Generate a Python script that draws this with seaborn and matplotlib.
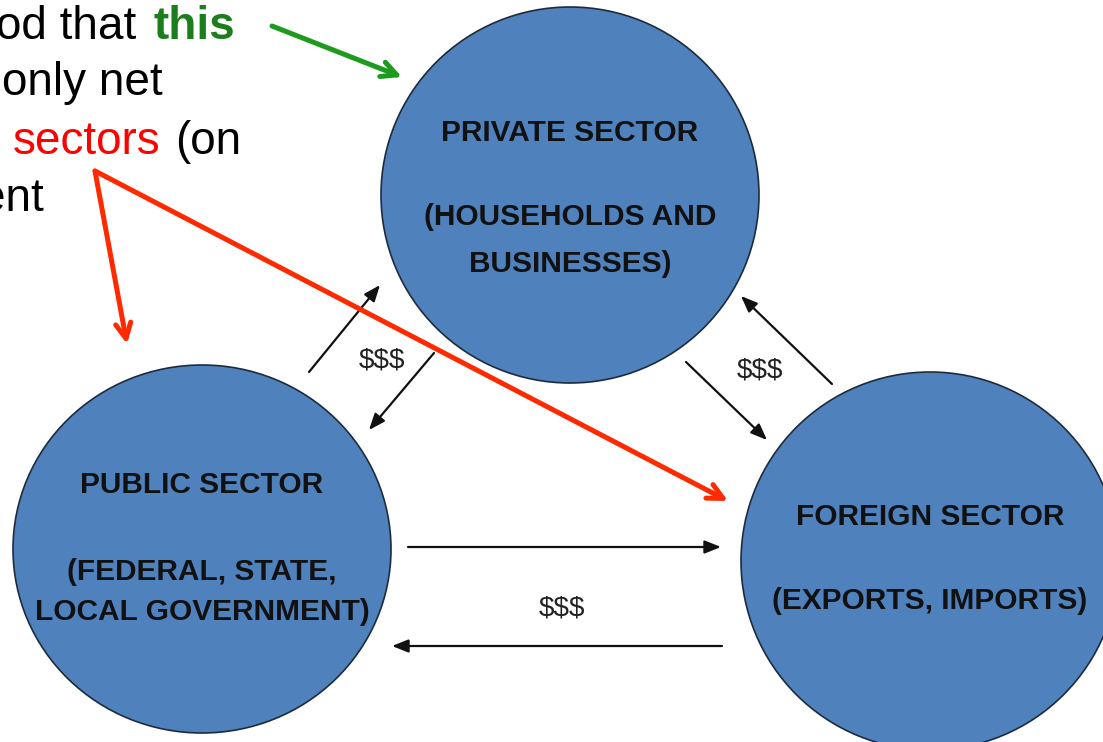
import matplotlib
matplotlib.use("Agg")
import matplotlib.pyplot as plt
from matplotlib.patches import Ellipse, FancyArrowPatch
import seaborn as sns

sns.set_style("white")
plt.rcParams['font.family'] = ['Liberation Sans', 'DejaVu Sans']

# sector circles (pixel coords, y down)
sectors = ['PRIVATE', 'PUBLIC', 'FOREIGN']
centers = [(570, 195), (202, 549), (930, 561)]
widths = [378, 378, 378]
heights = [376, 368, 378]
labels = [
    [('PRIVATE SECTOR', 133), ('(HOUSEHOLDS AND', 217), ('BUSINESSES)', 264)],
    [('PUBLIC SECTOR', 485), ('(FEDERAL, STATE,', 572), ('LOCAL GOVERNMENT)', 612)],
    [('FOREIGN SECTOR', 517), ('(EXPORTS, IMPORTS)', 601)],
]

# money flow arrows: (start, end)
flows = [
    ((309, 372), (380, 285)),
    ((434, 353), (369, 430)),
    ((686, 362), (767, 440)),
    ((832, 384), (741, 296)),
    ((408, 547), (721, 547)),
    ((722, 646), (392, 646)),
]
money = [(382, 360), (760, 370), (562, 609)]

# annotation text fragments (text, x, baseline, colour, bold)
notes = [
    ('od that', -4, 39, 'black', False),
    ('this', 153, 39, '#1b7d1b', True),
    ('only net', 2, 95, 'black', False),
    ('sectors', 13, 154, '#ff0000', False),
    ('(on', 175, 154, 'black', False),
    ('ent', -20, 211, 'black', False),
]
pointers = [
    ((272, 26), (402, 77), '#1e9a1e'),
    ((95, 171), (127, 344), '#ff2a00'),
    ((95, 171), (728, 501), '#ff2a00'),
]

fig = plt.figure(figsize=(11.03, 7.42), dpi=100)
ax = fig.add_axes([0, 0, 1, 1])
ax.set_xlim(0, 1103)
ax.set_ylim(742, 0)
ax.axis('off')

for (cx, cy), w, h, lab in zip(centers, widths, heights, labels):
    ax.add_patch(Ellipse((cx, cy), w, h, facecolor='#4f81bd',
                         edgecolor='#1d2b3c', lw=1.2, zorder=1))
    for txt, y in lab:
        ax.text(cx, y, txt, ha='center', va='center', fontsize=21.5,
                fontweight='bold', color='#111111', zorder=3)

for s, e in flows:
    ax.add_patch(FancyArrowPatch(s, e, arrowstyle='-|>,head_length=0.7,head_width=0.28',
                                 mutation_scale=14, color='#111111', lw=1.6,
                                 shrinkA=0, shrinkB=0, zorder=2))
for x, y in money:
    ax.text(x, y, '$$$', ha='center', va='center', fontsize=20,
            color='#222222', zorder=3)

for txt, x, y, col, bold in notes:
    ax.text(x, y, txt, ha='left', va='baseline', fontsize=33, color=col,
            fontweight='bold' if bold else 'normal', zorder=3)

for s, e, col in pointers:
    ax.annotate('', xy=e, xytext=s,
                arrowprops=dict(arrowstyle='->,head_length=1.1,head_width=0.55',
                                color=col, lw=3.6, shrinkA=0, shrinkB=0,
                                capstyle='round', joinstyle='round'),
                zorder=4)

fig.savefig('out.png', dpi=100)
